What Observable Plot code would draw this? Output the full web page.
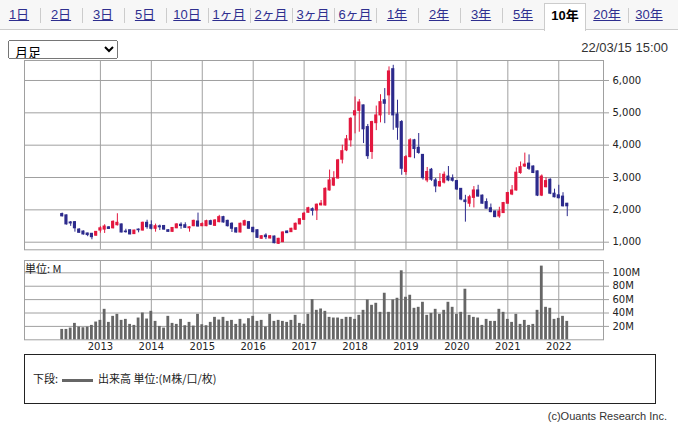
<!DOCTYPE html>
<html><head><meta charset="utf-8">
<script src="https://cdn.jsdelivr.net/npm/d3@7"></script>
<script src="https://cdn.jsdelivr.net/npm/@observablehq/plot@0.6"></script>
<style>
body{margin:0;background:#fff;}
#page{position:relative;width:678px;height:430px;overflow:hidden;font-family:"Liberation Sans","Noto Sans CJK JP",sans-serif;color:#222;}
#tabbar{position:absolute;left:0;top:0;width:678px;height:29px;background:#f7f7f7;border-bottom:1px solid #ccc;}
#tabs{position:absolute;left:-2px;top:0;display:flex;height:30px;}
.tab{width:42px;height:30px;position:relative;text-align:center;font-size:13px;line-height:30px;box-sizing:border-box;}
.tab a{color:#2f2f8f;text-decoration:underline;}
.tab .sep{position:absolute;left:0;top:8px;width:1px;height:15px;background:#ccc;}
.tab.sel{background:#fff;border:1px solid #ccc;border-bottom:none;top:3px;height:28px;line-height:24px;font-weight:bold;color:#000;}
#sel{position:absolute;left:8px;top:40px;width:110px;height:19px;font-size:13px;font-family:"Noto Sans CJK JP",sans-serif;padding:0 2px;}
#date{position:absolute;right:10px;top:40px;font-size:13px;line-height:16px;color:#333;}
#price{position:absolute;left:0;top:50px;}
#vol{position:absolute;left:0;top:255px;}
#unit{position:absolute;left:25px;top:262px;font-size:11px;line-height:12px;font-family:"Noto Sans CJK JP",sans-serif;}
#legend{position:absolute;left:24px;top:354px;width:632px;height:50px;border:1px solid #222;box-sizing:border-box;}
#legtext{position:absolute;left:8px;top:16px;font-size:11px;line-height:14px;font-family:"Noto Sans CJK JP",sans-serif;white-space:nowrap;}
#legline{display:inline-block;width:31px;height:3px;background:#666;vertical-align:middle;margin:0 5px 0 4px;}
#copy{position:absolute;right:11px;top:409px;font-size:11px;line-height:14px;color:#333;}
</style></head>
<body><div id="page">
<div id="tabbar"></div>
<div id="tabs"></div>
<select id="sel"><option>月足</option></select>
<div id="date">22/03/15 15:00</div>
<div id="price"></div>
<div id="vol"></div>
<div id="unit">単位: M</div>
<div id="legend"><div id="legtext">下段:<span id="legline"></span>出来高 単位:(M株/口/枚)</div></div>
<div id="copy">(c)Ouants Research Inc.</div>
</div>
<script>
// ---- data ----
const tabLabels = ["1日","2日","3日","5日","10日","1ヶ月","2ヶ月","3ヶ月","6ヶ月","1年","2年","3年","5年","10年","20年","30年"];
const selectedTab = "10年";
const months = d3.timeMonth.range(new Date(2012,3,1), new Date(2022,3,1)).map(d3.timeFormat("%Y-%m"));
const open  = [1870,1830,1610,1620,1390,1330,1270,1260,1200,1360,1390,1460,1430,1525,1550,1330,1370,1250,1390,1360,1600,1525,1415,1490,1500,1370,1320,1430,1540,1525,1430,1495,1640,1495,1495,1650,1505,1620,1775,1660,1570,1430,1300,1515,1620,1445,1370,1105,1205,1115,1175,950,1000,1330,1310,1385,1550,1690,1910,2020,1980,2140,2135,2600,2750,2970,3550,3840,4150,4920,5060,5230,4560,3790,4680,4920,5390,5540,6350,4950,4715,3170,3630,4150,3920,3700,2910,3240,2910,2725,2840,3030,2970,2890,2650,2290,2190,2370,2600,2440,2240,2050,1950,1795,1900,2190,2475,2600,3140,3340,3430,3340,3190,2440,2700,2930,2500,2450,2410,2190];
const high  = [1900,1840,1640,1640,1420,1350,1280,1270,1330,1480,1540,1480,1660,1880,1560,1400,1380,1370,1410,1620,1680,1660,1560,1530,1520,1390,1450,1570,1600,1600,1480,1680,1900,1600,1680,1680,1700,1830,1800,1680,1600,1450,1590,1680,1640,1460,1380,1200,1260,1200,1190,1120,1320,1350,1430,1590,1730,1920,2080,2060,2180,2290,2680,3230,3180,3560,4000,4300,4850,5490,5410,5240,4640,4740,5210,5560,5750,6420,6470,5390,4760,3680,4200,4180,4360,3700,3310,3280,2970,3120,3170,3340,3080,2910,2660,2450,2450,2720,2760,2460,2340,2180,1960,2080,2230,2540,2750,3300,3480,3755,3700,3360,3200,3080,2990,2960,2640,2760,2530,2200];
const low   = [1780,1530,1490,1310,1280,1220,1170,1075,1190,1280,1270,1400,1410,1500,1290,1280,1230,1240,1290,1350,1400,1380,1310,1360,1370,1310,1310,1420,1400,1430,1310,1480,1470,1480,1480,1520,1490,1600,1590,1470,1300,1280,1290,1500,1400,1290,1120,1090,1080,1100,950,930,990,1270,1300,1370,1540,1680,1900,1810,1670,2120,2120,2580,2720,2950,3420,3800,3940,4350,4400,4050,3560,3560,4450,4690,4665,4920,4460,4150,3070,3070,3610,3580,3720,2920,2840,2880,2530,2700,2800,2870,2860,2600,2280,1620,2080,2060,2400,2180,2030,1910,1760,1740,1890,2180,2440,2580,3100,3310,3220,3120,2410,2410,2680,2470,2370,2340,2090,1790];
const close = [1800,1550,1580,1430,1290,1240,1220,1155,1320,1430,1485,1410,1630,1600,1300,1310,1240,1360,1370,1600,1465,1415,1495,1460,1390,1320,1440,1550,1500,1445,1460,1660,1485,1560,1650,1540,1670,1775,1610,1495,1415,1300,1570,1650,1415,1310,1135,1185,1155,1185,970,1105,1300,1280,1415,1570,1710,1880,2050,1970,2160,2190,2650,2910,2970,3530,3815,4180,4815,5050,5320,4490,3660,4715,4920,5330,5280,6280,4920,4540,3270,3630,4150,3880,3760,2980,3170,2930,2725,2860,3085,2910,2900,2630,2320,2240,2390,2600,2410,2190,2035,1930,1775,1950,2210,2520,2600,3150,3320,3400,3270,3140,2440,3030,2890,2500,2390,2360,2110,2110];
const volume = [15.5,15.5,17.5,24.5,19,18,19,21.5,26.5,29,45.5,26,35,38,29,30.5,23,21.5,32.5,40,31,42.5,27.5,20,17.5,35,24.5,23,30.5,21,26,20.5,38,22.5,21,26,33.5,29.5,33.5,27.5,29,23,30.5,23.5,31.5,35,27.5,29,19,38,27.5,29,27.5,26,29,36.5,24.5,23,38,60,44,46,42.5,33.5,32.5,32.5,30.5,33.5,33.5,30.5,36.5,44,59.5,51.5,54.5,41,69.5,41,59.5,62,103,63.5,66.5,47,48.5,56,36.5,39.5,45.5,38,44,56,48.5,38,41,75.5,36.5,33.5,32.5,21.5,30.5,27.5,27.5,45.5,41,30.5,26,38,23,29,21.5,23,44,110,48.5,47,30.5,32,35,27.5];
const yearLabels = ["2013","2014","2015","2016","2017","2018","2019","2020","2021","2022"];
const priceTicks = [1000,2000,3000,4000,5000,6000];
const volumeTicks = [20,40,60,80,100];

// ---- tabs ----
const tabsEl = document.getElementById("tabs");
tabLabels.forEach((t, k) => {
  const d = document.createElement("div");
  d.className = "tab" + (t === selectedTab ? " sel" : "");
  if (t === selectedTab) d.textContent = t;
  else {
    if (k > 0 && tabLabels[k-1] !== selectedTab) { const s = document.createElement("div"); s.className = "sep"; d.appendChild(s); }
    const a = document.createElement("a"); a.textContent = t; d.appendChild(a);
  }
  tabsEl.appendChild(d);
});

// ---- derived tables ----
const candles = months.map((m, i) => ({i, m, o: open[i], h: high[i], l: low[i], c: close[i], v: volume[i]}));
const ups = candles.filter(d => d.c >= d.o);
const downs = candles.filter(d => d.c < d.o);
const yearIdx = yearLabels.map(y => months.indexOf(y + "-01"));
const yearLabelOf = new Map(yearIdx.map((k, j) => [k, yearLabels[j]]));

const RED = "#e3173e", BLUE = "#2c2a8c", GRID = "#a0a0a0";
const xDomain = [-8.883, 127.54];
const style = {fontFamily: "'DejaVu Sans', sans-serif", fontSize: "10px", background: "transparent", overflow: "visible"};
const hw = 0.37;

const price = Plot.plot({
  width: 678, height: 210,
  marginLeft: 24, marginRight: 75, marginTop: 10, marginBottom: 10.7,
  x: {domain: xDomain, axis: null},
  y: {domain: [765, 6618], axis: null},
  style,
  marks: [
    Plot.ruleY(priceTicks, {stroke: GRID}),
    Plot.ruleX(yearIdx, {stroke: GRID}),
    Plot.frame({stroke: GRID}),
    Plot.axisY({anchor: "right", ticks: priceTicks, tickFormat: d3.format(","), tickSize: 5, tickPadding: 4, stroke: GRID, fill: "#222", fontSize: 10, label: null}),
    Plot.ruleX(ups, {x: "i", y1: "l", y2: "h", stroke: RED}),
    Plot.ruleX(downs, {x: "i", y1: "l", y2: "h", stroke: BLUE}),
    Plot.rect(ups, {x1: d => d.i - hw, x2: d => d.i + hw, y1: "o", y2: "c", fill: RED, insetTop: -0.5, insetBottom: -0.5}),
    Plot.rect(downs, {x1: d => d.i - hw, x2: d => d.i + hw, y1: "o", y2: "c", fill: BLUE, insetTop: -0.5, insetBottom: -0.5})
  ]
});
document.getElementById("price").appendChild(price);

const vol = Plot.plot({
  width: 678, height: 100,
  marginLeft: 24, marginRight: 75, marginTop: 5, marginBottom: 15.7,
  x: {domain: xDomain, axis: null},
  y: {domain: [0, 118.4], axis: null},
  style,
  marks: [
    Plot.ruleY(volumeTicks, {stroke: GRID}),
    Plot.ruleX(yearIdx, {stroke: GRID}),
    Plot.frame({stroke: GRID}),
    Plot.axisY({anchor: "right", ticks: volumeTicks, tickFormat: d => d + "M", tickSize: 5, tickPadding: 4, stroke: GRID, fill: "#222", fontSize: 10, label: null}),
    Plot.axisX({anchor: "bottom", ticks: yearIdx, tickFormat: d => yearLabelOf.get(d), tickSize: 0, tickPadding: 3, fill: "#222", fontSize: 10, label: null}),
    Plot.rect(candles, {x1: d => d.i - 0.33, x2: d => d.i + 0.33, y1: 0, y2: "v", fill: "#666"})
  ]
});
document.getElementById("vol").appendChild(vol);
</script>
</body></html>
